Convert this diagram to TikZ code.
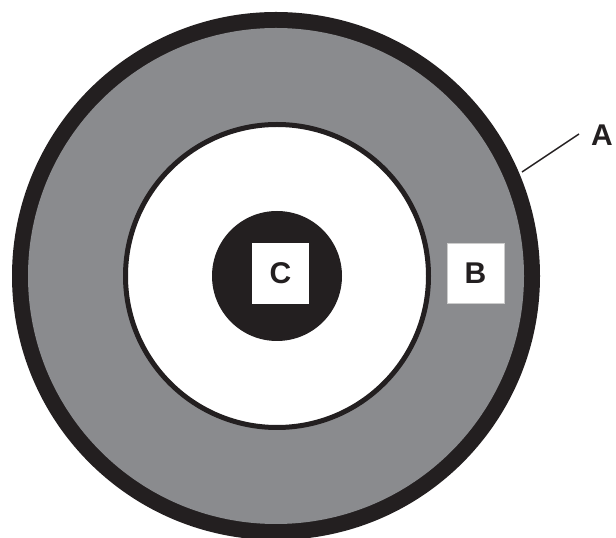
\documentclass[tikz,border=0pt]{standalone}
\usepackage{fontspec}
\setmainfont{Liberation Sans}
\usepackage{tikz}
\usetikzlibrary{calc}

\definecolor{inkblack}{HTML}{231F20}
\definecolor{ringgray}{HTML}{8A8B8E}

\begin{document}
\begin{tikzpicture}[x=1pt, y=1pt, every node/.style={font=\fontsize{30}{32}\selectfont\bfseries, text=inkblack}]

\clip (0,0) rectangle (616,538);
\useasboundingbox (0,0) rectangle (616,538);

% Outer ring (A) and grey band
\fill[inkblack] (276,262) circle (264);
\fill[ringgray] (276,262) circle (248);

% Inner white zone
\draw[line width=5pt, draw=inkblack, fill=white] (277,262) circle (151.5);

% Core disk
\fill[inkblack] (277,262) circle (65);

% Label boxes
\node[fill=white, minimum width=57, minimum height=61, inner sep=0] (labC) at (280.5,264.5) {C};
\node[fill=white, draw=gray!40, line width=0.6pt, minimum width=57, minimum height=60, inner sep=0] (labB) at (475.5,265) {B};

% Leader for A
\coordinate (ringA) at (522,366);
\coordinate (leadA) at (579,404);
\node[anchor=west, inner sep=0] (labA) at ([xshift=12pt,yshift=-1pt]leadA) {A};
\draw[line width=1.5pt, inkblack] (ringA) -- (leadA);

\end{tikzpicture}
\end{document}
